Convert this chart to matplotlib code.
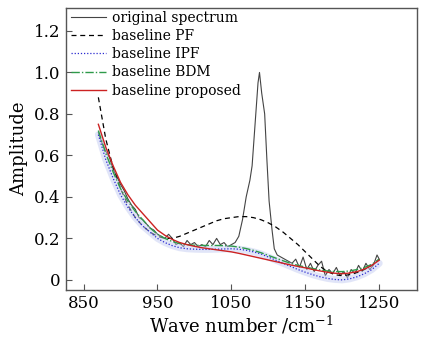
import numpy as np
import matplotlib
matplotlib.use("Agg")
import matplotlib.pyplot as plt

plt.rcParams['font.family'] = ['DejaVu Serif']
plt.rcParams['mathtext.fontset'] = 'dejavuserif'

# ── data ──
spec_x = [870, 875, 880, 885, 890, 895, 900, 905, 910, 915, 920, 925, 930, 935, 940,
          945, 950, 955, 960, 965, 970, 975, 980, 985, 990, 995, 1000, 1005, 1010,
          1015, 1020, 1025, 1030, 1035, 1040, 1045, 1050, 1055, 1060, 1065, 1070,
          1075, 1078, 1082, 1086, 1088, 1091, 1093, 1095, 1098, 1101, 1105, 1108,
          1112, 1117, 1122, 1127, 1132, 1137, 1142, 1147, 1152, 1157, 1162, 1167,
          1172, 1177, 1182, 1187, 1192, 1197, 1202, 1207, 1212, 1217, 1222, 1227,
          1232, 1237, 1242, 1247, 1250]
spec_y = [0.71, 0.66, 0.62, 0.59, 0.53, 0.50, 0.46, 0.43, 0.39, 0.36, 0.34, 0.30,
          0.29, 0.27, 0.25, 0.24, 0.22, 0.21, 0.20, 0.22, 0.20, 0.17, 0.18, 0.16,
          0.19, 0.17, 0.18, 0.16, 0.17, 0.16, 0.19, 0.17, 0.20, 0.17, 0.18, 0.16,
          0.17, 0.18, 0.21, 0.29, 0.40, 0.48, 0.55, 0.75, 0.95, 1.00, 0.90, 0.85,
          0.80, 0.58, 0.38, 0.24, 0.15, 0.12, 0.11, 0.10, 0.09, 0.08, 0.10, 0.06,
          0.11, 0.05, 0.08, 0.04, 0.07, 0.09, 0.02, 0.05, 0.03, 0.06, 0.02, 0.04,
          0.01, 0.05, 0.03, 0.07, 0.04, 0.08, 0.05, 0.07, 0.12, 0.10]

base_x = [870, 880, 890, 900, 910, 920, 930, 940, 950, 960, 970, 980, 990, 1000,
          1010, 1020, 1030, 1040, 1050, 1060, 1070, 1080, 1090, 1100, 1110, 1120,
          1130, 1140, 1150, 1160, 1170, 1180, 1190, 1200, 1210, 1220, 1230, 1240, 1250]
pf_y = [0.88, 0.68, 0.54, 0.44, 0.36, 0.30, 0.26, 0.23, 0.21, 0.20, 0.20, 0.21,
        0.225, 0.24, 0.255, 0.27, 0.285, 0.295, 0.30, 0.305, 0.305, 0.30, 0.29,
        0.275, 0.255, 0.23, 0.20, 0.17, 0.135, 0.10, 0.065, 0.04, 0.025, 0.02,
        0.025, 0.035, 0.05, 0.07, 0.10]
ipf_y = [0.70, 0.58, 0.49, 0.41, 0.35, 0.30, 0.26, 0.23, 0.20, 0.18, 0.165, 0.155,
         0.15, 0.148, 0.147, 0.147, 0.148, 0.149, 0.15, 0.148, 0.143, 0.135, 0.125,
         0.11, 0.095, 0.08, 0.065, 0.05, 0.037, 0.025, 0.015, 0.007, 0.002, 0.0,
         0.005, 0.015, 0.03, 0.05, 0.08]
bdm_y = [0.72, 0.61, 0.52, 0.44, 0.38, 0.33, 0.29, 0.25, 0.22, 0.20, 0.185, 0.175,
         0.17, 0.167, 0.166, 0.166, 0.166, 0.165, 0.163, 0.158, 0.151, 0.142, 0.131,
         0.118, 0.105, 0.092, 0.08, 0.07, 0.062, 0.055, 0.048, 0.043, 0.04, 0.04,
         0.043, 0.05, 0.06, 0.075, 0.10]
prop_y = [0.75, 0.64, 0.55, 0.47, 0.41, 0.36, 0.32, 0.28, 0.24, 0.215, 0.195, 0.18,
          0.17, 0.162, 0.155, 0.15, 0.145, 0.14, 0.135, 0.128, 0.12, 0.112, 0.104,
          0.096, 0.088, 0.08, 0.072, 0.065, 0.058, 0.05, 0.043, 0.037, 0.032, 0.03,
          0.033, 0.04, 0.052, 0.07, 0.095]

x_ticks = [850, 950, 1050, 1150, 1250]
y_ticks = [0, 0.2, 0.4, 0.6, 0.8, 1.0, 1.2]
y_ticklabels = ['0', '0.2', '0.4', '0.6', '0.8', '1.0', '1.2']

fig = plt.figure(figsize=(4.22, 3.39), dpi=100)
ax = fig.add_axes([0.156, 0.145, 0.832, 0.831])

ax.plot(spec_x, spec_y, color='#444444', lw=0.8, label='original spectrum')
ax.plot(base_x, pf_y, color='black', lw=0.9, ls=(0, (4, 3)), label='baseline PF')
# pale haze around the IPF curve
ax.plot(base_x, ipf_y, color='#c5cdf2', lw=5, alpha=0.5, solid_capstyle='round')
ax.plot(base_x, ipf_y, color='#2a2ad0', lw=0.9, ls=(0, (1, 1.5)), label='baseline IPF')
ax.plot(base_x, bdm_y, color='#2e9a4a', lw=1.0, ls=(0, (6, 1.5, 1, 1.5)), label='baseline BDM')
ax.plot(base_x, prop_y, color='#cc2222', lw=1.0, label='baseline proposed')

ax.set_xlim(826, 1301)
ax.set_ylim(-0.048, 1.31)
ax.set_xticks(x_ticks)
ax.set_yticks(y_ticks)
ax.set_yticklabels(y_ticklabels)
ax.tick_params(direction='in', length=4, labelsize=12, color='#555555', pad=4)
for s in ax.spines.values():
    s.set_color('#555555')
    s.set_linewidth(1.0)

ax.set_xlabel('Wave number /cm$^{-1}$', fontsize=13, labelpad=1)
ax.set_ylabel('Amplitude', fontsize=13, labelpad=4)

ax.legend(loc='upper left', frameon=False, fontsize=10, handlelength=2.5,
          handletextpad=0.4, labelspacing=0.3, borderaxespad=0.0,
          bbox_to_anchor=(0.0, 1.01))

fig.savefig('out.png', dpi=100)
